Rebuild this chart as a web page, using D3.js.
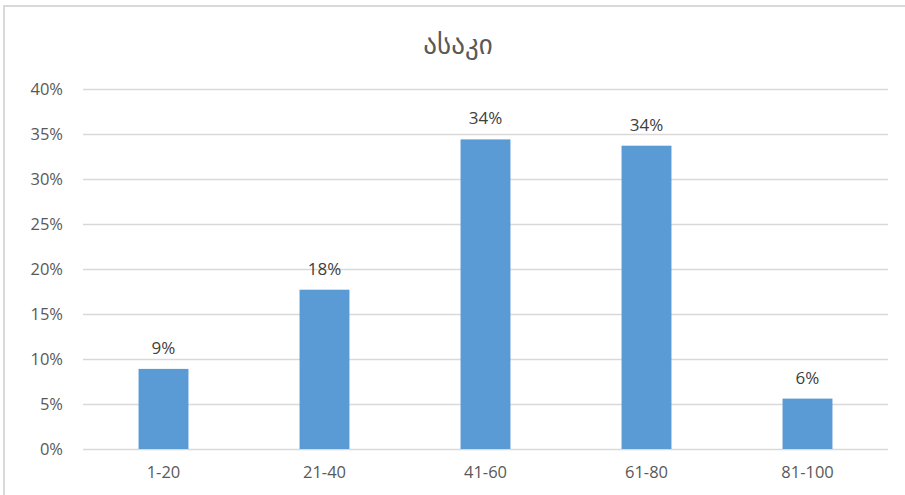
<!DOCTYPE html>
<html><head><meta charset="utf-8">
<script src="https://cdn.jsdelivr.net/npm/d3@7"></script>
<style>body{margin:0;background:#fff}svg{display:block}text{font-family:"Open Sans","DejaVu Sans",sans-serif}</style>
</head><body>
<svg id="c" width="905" height="495"></svg>
<script>
const title = "ასაკი";
const categories = ["1-20","21-40","41-60","61-80","81-100"];
const values = [0.089, 0.177, 0.344, 0.337, 0.056];
const valueLabels = ["9%","18%","34%","34%","6%"];
const yTicks = [0,0.05,0.10,0.15,0.20,0.25,0.30,0.35,0.40];

const svg = d3.select("#c");
const m = {left:83, right:888, top:89, bottom:449};
// frame
svg.append("path").attr("d","M4,495 L4,6 L905,6").attr("fill","none").attr("stroke","#d9d9d9").attr("stroke-width",2);

const x = d3.scaleBand().domain(categories).range([m.left,m.right]).paddingInner(0.69).paddingOuter(0.345);
const y = d3.scaleLinear().domain([0,0.4]).range([m.bottom,m.top]);

svg.append("text").attr("x",458).attr("y",54).attr("text-anchor","middle")
  .attr("font-size",27).attr("fill","#595959").text(title);

// gridlines
svg.append("g").selectAll("line").data(yTicks).join("line")
  .attr("x1",m.left).attr("x2",m.right).attr("y1",d=>Math.round(y(d))+0.5).attr("y2",d=>Math.round(y(d))+0.5)
  .attr("stroke","#d9d9d9").attr("stroke-width",1.5);

const yAxis = d3.axisLeft(y).tickValues(yTicks).tickFormat(d3.format(".0%")).tickSize(0).tickPadding(20);
const gy = svg.append("g").attr("transform",`translate(${m.left},0)`).call(yAxis);
gy.select(".domain").remove();
gy.selectAll("text").attr("font-size",16.5).attr("fill","#595959").attr("font-family","'Open Sans','DejaVu Sans',sans-serif");

const xAxis = d3.axisBottom(x).tickSize(0).tickPadding(17);
const gx = svg.append("g").attr("transform",`translate(0,${m.bottom})`).call(xAxis);
gx.select(".domain").remove();
gx.selectAll("text").attr("font-size",16.5).attr("fill","#595959").attr("font-family","'Open Sans','DejaVu Sans',sans-serif");

svg.append("g").selectAll("rect").data(values).join("rect")
  .attr("x",(d,i)=>x(categories[i])).attr("width",x.bandwidth())
  .attr("y",d=>y(d)).attr("height",d=>m.bottom-y(d)).attr("fill","#5b9bd5");

svg.append("g").selectAll("text").data(values).join("text")
  .attr("x",(d,i)=>x(categories[i])+x.bandwidth()/2).attr("y",d=>y(d)-15)
  .attr("text-anchor","middle").attr("font-size",17).attr("fill","#404040")
  .text((d,i)=>valueLabels[i]);
</script>
</body></html>
